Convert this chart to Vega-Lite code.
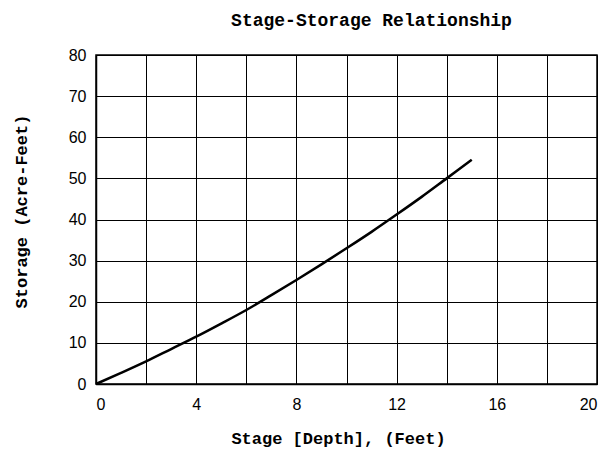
{
  "$schema": "https://vega.github.io/schema/vega-lite/v6.json",
  "autosize": {"type": "none"},
  "padding": {"left": 96, "top": 55, "right": 13, "bottom": 69},
  "width": 501,
  "height": 329,
  "background": "white",
  "title": {
    "text": "Stage-Storage Relationship",
    "font": "Liberation Mono",
    "fontSize": 18,
    "fontWeight": "bold",
    "color": "black",
    "anchor": "middle",
    "offset": 17,
    "dx": 25
  },
  "data": {
    "values": [
      {"stage": 0, "storage": 0},
      {"stage": 1, "storage": 2.7},
      {"stage": 2, "storage": 5.5},
      {"stage": 3, "storage": 8.5},
      {"stage": 4, "storage": 11.5},
      {"stage": 5, "storage": 14.7},
      {"stage": 6, "storage": 18},
      {"stage": 7, "storage": 21.6},
      {"stage": 8, "storage": 25.3},
      {"stage": 9, "storage": 29.1},
      {"stage": 10, "storage": 33},
      {"stage": 11, "storage": 37},
      {"stage": 12, "storage": 41.2},
      {"stage": 13, "storage": 45.5},
      {"stage": 14, "storage": 50},
      {"stage": 15, "storage": 54.5}
    ]
  },
  "mark": {"type": "line", "color": "black", "strokeWidth": 2.5, "interpolate": "monotone"},
  "encoding": {
    "x": {
      "field": "stage",
      "type": "quantitative",
      "scale": {"domain": [0, 20], "nice": false},
      "axis": {
        "title": "Stage [Depth], (Feet)",
        "values": [0, 2, 4, 6, 8, 10, 12, 14, 16, 18, 20],
        "labelExpr": "datum.value % 4 === 0 ? datum.label : ''",
        "grid": true,
        "gridColor": "black",
        "gridOpacity": 1,
        "gridWidth": 1,
        "domainColor": "black",
        "domainWidth": 1.5,
        "ticks": false,
        "labelPadding": 12,
        "labelFont": "Liberation Sans",
        "labelFontSize": 16,
        "labelColor": "black",
        "titleFont": "Liberation Mono",
        "titleFontSize": 17,
        "titleFontWeight": "bold",
        "titleColor": "black",
        "titlePadding": 18,
        "titleX": 242
      }
    },
    "y": {
      "field": "storage",
      "type": "quantitative",
      "scale": {"domain": [0, 80], "nice": false},
      "axis": {
        "title": "Storage (Acre-Feet)",
        "values": [0, 10, 20, 30, 40, 50, 60, 70, 80],
        "grid": true,
        "gridColor": "black",
        "gridOpacity": 1,
        "gridWidth": 1,
        "domainColor": "black",
        "domainWidth": 1.5,
        "ticks": false,
        "labelPadding": 10,
        "labelFont": "Liberation Sans",
        "labelFontSize": 16,
        "labelColor": "black",
        "titleFont": "Liberation Mono",
        "titleFontSize": 17,
        "titleFontWeight": "bold",
        "titleColor": "black",
        "titlePadding": 38,
        "titleY": 156
      }
    }
  },
  "config": {"view": {"stroke": "black", "strokeWidth": 1.5}}
}
